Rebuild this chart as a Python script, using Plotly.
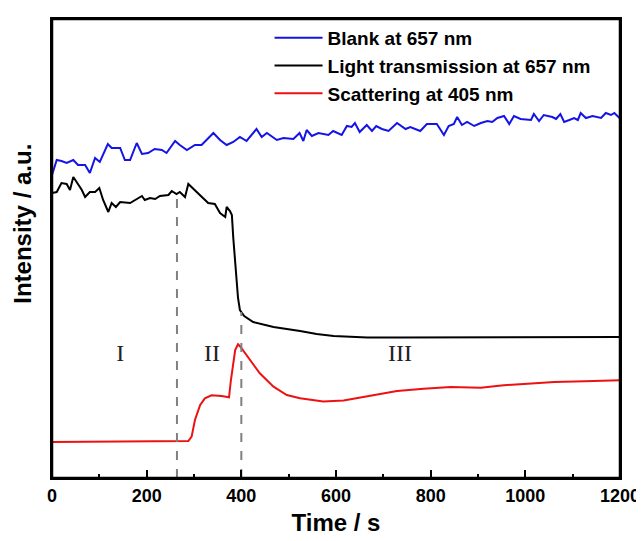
import numpy as np
import plotly.graph_objects as go

# time axis (s) and intensities (a.u.)
blank_t = [0, 10, 20, 31, 45, 55, 70, 80, 91, 101, 118, 126, 144, 154, 165, 179, 190, 203, 217,
           232, 242, 260, 270, 285, 302, 316, 341, 355, 369, 383, 397, 411, 432, 443, 454, 475,
           489, 510, 523, 531, 538, 549, 563, 584, 594, 612, 623, 633, 640, 650, 665, 676, 685,
           697, 711, 729, 747, 757, 778, 792, 813, 828, 838, 849, 856, 866, 877, 892, 906, 920,
           930, 941, 955, 966, 976, 990, 1012, 1018, 1029, 1039, 1057, 1065, 1074, 1082, 1093,
           1103, 1111, 1117, 1128, 1142, 1160, 1170, 1181, 1188, 1199]
blank_i = [303, 318, 317, 315, 318, 313, 313, 305, 320, 316, 334, 330, 330, 318, 318, 335, 324,
           325, 329, 328, 325, 337, 333, 328, 333, 333, 345, 338, 333, 336, 341, 337, 349, 341,
           345, 338, 340, 339, 345, 337, 348, 342, 345, 343, 347, 343, 352, 351, 355, 346, 353,
           347, 352, 349, 347, 355, 349, 351, 347, 354, 354, 343, 352, 354, 361, 353, 356, 352,
           355, 357, 356, 360, 362, 354, 362, 359, 358, 364, 357, 363, 361, 359, 364, 356, 358,
           360, 358, 365, 360, 362, 360, 365, 363, 365, 360]

trans_t = [0, 10, 20, 31, 38, 45, 52, 63, 70, 80, 91, 100, 108, 119, 126, 135, 144, 165, 190,
           196, 207, 218, 228, 246, 253, 263, 270, 281, 288, 306, 320, 330, 344, 355, 366, 369,
           376, 380, 383, 389, 393, 397, 406, 425, 468, 524, 559, 595, 666, 735, 947, 1200]
trans_i = [285, 286, 295, 294, 288, 301, 296, 288, 281, 286, 286, 290, 278, 266, 275, 271, 276,
           275, 282, 278, 280, 279, 282, 283, 287, 284, 286, 281, 294, 286, 280, 275, 274, 265,
           261, 271, 267, 263, 240, 200, 180, 168, 162, 156, 151, 147, 144, 142, 140.5, 140.5,
           141, 141]

scat_t = [0, 100, 200, 288, 295, 302, 313, 323, 337, 358, 374, 378, 387, 393, 398, 418, 439,
          468, 496, 524, 545, 573, 616, 658, 693, 729, 785, 842, 906, 949, 1005, 1061, 1125, 1200]
scat_i = [36, 36.3, 36.5, 37, 41.3, 58, 73, 79.7, 82.7, 82, 80.7, 98, 128, 133.7, 131.3, 118,
          104.7, 91.3, 83, 79.7, 78.3, 76.6, 77.6, 81, 84.3, 87, 89.3, 91, 90.3, 92.6, 94.3, 96,
          96.7, 97.7]

stage_bounds = [264, 400]
stage_labels = ["I", "II", "III"]
stage_label_t = [144, 338, 735]
stage_label_i = [123, 123, 123]

FONT = "Arial, Liberation Sans, sans-serif"

fig = go.Figure()
fig.add_trace(go.Scatter(x=blank_t, y=blank_i, mode="lines", name="Blank at 657 nm",
                         line=dict(color="#1414e6", width=2)))
fig.add_trace(go.Scatter(x=trans_t, y=trans_i, mode="lines", name="Light transmission at 657 nm",
                         line=dict(color="black", width=2)))
fig.add_trace(go.Scatter(x=scat_t, y=scat_i, mode="lines", name="Scattering at 405 nm",
                         line=dict(color="#ee1111", width=2)))

# dashed stage boundaries, from the axis up to the transmission curve
for b in stage_bounds:
    fig.add_trace(go.Scatter(x=[b, b], y=[0, float(np.interp(b, trans_t, trans_i))],
                             mode="lines", showlegend=False, hoverinfo="skip",
                             line=dict(color="#808080", width=2, dash="dash")))

fig.add_trace(go.Scatter(x=stage_label_t, y=stage_label_i, mode="text", text=stage_labels,
                         showlegend=False, hoverinfo="skip",
                         textfont=dict(family="Liberation Serif, Times New Roman, serif",
                                       size=24, color="#222")))

# y title placed by hand (sits a bit above the middle in the original)
fig.add_annotation(text="Intensity / a.u.", textangle=-90, showarrow=False,
                   xref="paper", yref="paper", x=-0.052, y=0.555, xanchor="center",
                   yanchor="middle", font=dict(family=FONT, size=24, weight="bold"))

# frame around the plot area
fig.add_shape(type="rect", xref="paper", yref="paper", x0=0, x1=1, y0=0, y1=1,
              line=dict(color="black", width=2.5), layer="above")

# page body has an 8px margin, so the figure is 8px smaller than the window
fig.update_layout(
    width=636,
    height=533,
    margin=dict(l=44, r=24, t=11, b=63),
    plot_bgcolor="white",
    paper_bgcolor="white",
    font=dict(family=FONT, color="black"),
    legend=dict(x=0.383, y=1.0, xanchor="left", yanchor="top",
                bgcolor="rgba(0,0,0,0)", tracegroupgap=0, itemwidth=48,
                font=dict(family=FONT, size=19, weight="bold", color="black")),
    xaxis=dict(
        range=[0, 1200],
        automargin=False,
        title=dict(text="Time / s", font=dict(size=24, weight="bold"), standoff=10),
        tickvals=[0, 200, 400, 600, 800, 1000, 1200],
        tickfont=dict(size=18, weight="bold"),
        ticks="inside", ticklen=8, tickwidth=1.5, tickcolor="black",
        minor=dict(dtick=100, ticks="inside", ticklen=4, tickwidth=1.5, tickcolor="black"),
        showgrid=False, zeroline=False,
        showline=True, linecolor="black", linewidth=2, mirror=True,
    ),
    yaxis=dict(
        range=[0, 459],
        automargin=False,
        showticklabels=False, ticks="",
        showgrid=False, zeroline=False,
        showline=True, linecolor="black", linewidth=2, mirror=True,
    ),
)

fig.write_html("out.html")
